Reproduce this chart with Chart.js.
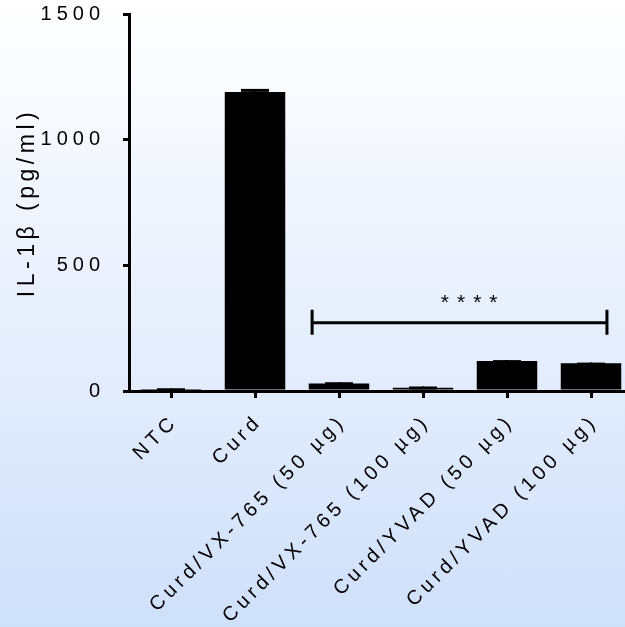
<!DOCTYPE html>
<html>
<head>
<meta charset="utf-8">
<script src="https://cdn.jsdelivr.net/npm/chart.js@4.4.1/dist/chart.umd.min.js"></script>
<style>
  html, body { margin: 0; padding: 0; }
  body {
    width: 625px; height: 627px; overflow: hidden;
    background: linear-gradient(to bottom, #ffffff 0%, #eaf1fd 45%, #cfe0fa 100%);
  }
  canvas { display: block; }
</style>
</head>
<body>
<canvas id="il1bChart" width="633" height="627"></canvas>
<script>
const categories = ['NTC', 'Curd', 'Curd/VX-765 (50 µg)', 'Curd/VX-765 (100 µg)', 'Curd/YVAD (50 µg)', 'Curd/YVAD (100 µg)'];
const il1bMean = [8, 1190, 30, 13, 119, 110];
const il1bSem = [3, 12, 5, 5, 4, 3];
const yTicks = [0, 500, 1000, 1500];

// significance bracket (category index units / pg/ml)
const sigFrom = 1.68;
const sigTo = 5.19;
const sigLevel = 272;
const sigLabelAt = 3.55;
const sigLabel = '****';

const FONT = '"Liberation Sans", Arial, sans-serif';

// letter spacing for tick labels and title (canvas only)
const spacingPlugin = {
  id: 'spacing',
  beforeDraw(chart) {
    const cfg = { x: ['4.4px', '5px'], y: ['5px', '4.5px'] };
    Object.keys(cfg).forEach(id => {
      const s = chart.scales[id];
      if (!s || s._spaced) return;
      const labels = s.drawLabels.bind(s);
      const title = s.drawTitle.bind(s);
      s.drawLabels = (area) => { chart.ctx.letterSpacing = cfg[id][0]; labels(area); chart.ctx.letterSpacing = '0px'; };
      s.drawTitle = (area) => { chart.ctx.letterSpacing = cfg[id][1]; title(area); chart.ctx.letterSpacing = '0px'; };
      s._spaced = true;
    });
  }
};

const errorBarPlugin = {
  id: 'errorBars',
  afterDatasetsDraw(chart) {
    const ctx = chart.ctx;
    const y = chart.scales.y;
    const meta = chart.getDatasetMeta(0);
    ctx.save();
    ctx.strokeStyle = '#000';
    meta.data.forEach((bar, i) => {
      const top = y.getPixelForValue(il1bMean[i] + il1bSem[i]);
      ctx.lineWidth = 2;
      ctx.beginPath();
      ctx.moveTo(bar.x, bar.y);
      ctx.lineTo(bar.x, top);
      ctx.stroke();
      ctx.lineWidth = 3;
      ctx.beginPath();
      ctx.moveTo(bar.x - 14, top + 1.5);
      ctx.lineTo(bar.x + 14, top + 1.5);
      ctx.stroke();
    });
    ctx.restore();
  }
};

const sigPlugin = {
  id: 'sigBracket',
  afterDraw(chart) {
    const ctx = chart.ctx;
    const x = chart.scales.x, y = chart.scales.y;
    const x1 = x.getPixelForValue(sigFrom);
    const x2 = x.getPixelForValue(sigTo);
    const yy = y.getPixelForValue(sigLevel);
    ctx.save();
    ctx.strokeStyle = '#000';
    ctx.lineWidth = 3;
    ctx.beginPath();
    ctx.moveTo(x1, yy); ctx.lineTo(x2, yy);
    ctx.moveTo(x1, yy - 13); ctx.lineTo(x1, yy + 12);
    ctx.moveTo(x2, yy - 13); ctx.lineTo(x2, yy + 12);
    ctx.stroke();
    ctx.fillStyle = '#000';
    ctx.font = '21px ' + FONT;
    ctx.letterSpacing = '8px';
    ctx.textAlign = 'center';
    ctx.textBaseline = 'alphabetic';
    ctx.fillText(sigLabel, x.getPixelForValue(sigLabelAt) + 4, yy - 14);
    ctx.restore();
  }
};

new Chart(document.getElementById('il1bChart'), {
  type: 'bar',
  data: {
    labels: categories,
    datasets: [{
      data: il1bMean,
      backgroundColor: '#000',
      borderWidth: 0,
      barPercentage: 0.72,
      categoryPercentage: 1.0,
    }],
  },
  options: {
    responsive: false,
    animation: false,
    layout: { padding: { top: 14, left: 0, right: 0, bottom: 0 } },
    plugins: { legend: { display: false }, tooltip: { enabled: false } },
    scales: {
      x: {
        afterFit(s) { s.height = 236; s.paddingLeft = 0; s.paddingRight = 0; },
        grid: { offset: false, drawOnChartArea: false, drawTicks: true, tickLength: 7, lineWidth: 3, color: '#000' },
        border: { display: true, color: '#000', width: 3 },
        ticks: {
          color: '#000', font: { family: FONT, size: 20 },
          minRotation: 45, maxRotation: 45, autoSkip: false, padding: 12, labelOffset: 4,
        },
      },
      y: {
        min: 0, max: 1500,
        afterFit(s) { s.width = 129; s.paddingTop = 0; s.paddingBottom = 0; },
        afterBuildTicks(s) { s.ticks = yTicks.map(v => ({ value: v })); },
        grid: { drawOnChartArea: false, drawTicks: true, tickLength: 6, lineWidth: 3, color: '#000' },
        border: { display: true, color: '#000', width: 3 },
        ticks: { color: '#000', font: { family: FONT, size: 20 }, padding: 18, callback: v => String(v) },
        title: {
          display: true, text: 'IL-1β (pg/ml)', color: '#000',
          font: { family: FONT, size: 23 }, padding: { top: 14, bottom: 0 },
        },
      },
    },
  },
  plugins: [spacingPlugin, errorBarPlugin, sigPlugin],
});
</script>
</body>
</html>
